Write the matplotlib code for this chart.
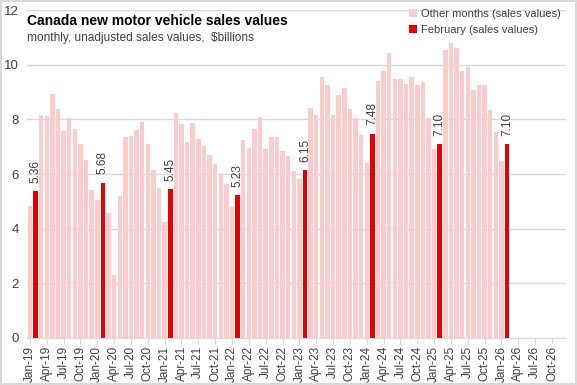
import matplotlib.pyplot as plt
import numpy as np
import pandas as pd

# --------------------------------
# Data ($billions, monthly, unadjusted)
# --------------------------------

sales_2019 = [4.84, 5.36, 8.17, 8.13, 8.95, 8.39, 7.59, 8.07, 7.65, 7.10, 6.53, 5.42]
sales_2020 = [5.05, 5.68, 4.57, 2.30, 5.21, 7.36, 7.40, 7.62, 7.91, 7.10, 6.15, 5.49]
sales_2021 = [4.24, 5.45, 8.24, 7.84, 7.18, 7.87, 7.30, 7.03, 6.70, 6.37, 5.99, 5.64]
sales_2022 = [4.80, 5.23, 7.26, 6.97, 7.65, 8.09, 6.93, 7.36, 7.36, 6.85, 6.66, 6.11]
sales_2023 = [5.82, 6.15, 8.42, 8.15, 9.56, 9.27, 8.17, 8.90, 9.16, 8.39, 8.06, 7.43]
sales_2024 = [6.41, 7.48, 9.41, 9.78, 10.43, 9.49, 9.49, 9.30, 9.56, 9.27, 9.38, 8.06]
sales_2025 = [6.92, 7.10, 10.55, 10.81, 10.62, 9.78, 9.93, 9.08, 9.27, 9.27, 8.35, 7.54]
sales_2026 = [6.48, 7.10]

sales = np.array(
    sales_2019 + sales_2020 + sales_2021 + sales_2022
    + sales_2023 + sales_2024 + sales_2025 + sales_2026
)

# axis runs Jan-19 .. Dec-26
months = pd.date_range("2019-01-01", "2026-12-01", freq="MS")
tick_labels = [m.strftime("%b-%y") for m in months]

is_feb = np.array([m.month == 2 for m in months[:len(sales)]])
x = np.arange(len(sales))

LIGHT = "#FCCCCC"
RED = "#E60000"
GRID = "#D9D9D9"
TEXT = "#404040"

# --------------------------------
# Figure
# --------------------------------

fig = plt.figure(
    figsize=(5.77, 3.85),
    dpi=100,
    edgecolor=GRID,
    linewidth=1.5
)

ax = fig.add_axes([0.047, 0.123, 0.934, 0.85])

ax.bar(
    x[~is_feb],
    sales[~is_feb],
    width=0.8,
    color=LIGHT,
    label="Other months (sales values)",
    zorder=2
)

ax.bar(
    x[is_feb],
    sales[is_feb],
    width=0.8,
    color=RED,
    label="February (sales values)",
    zorder=2
)

for xi, v in zip(x[is_feb], sales[is_feb]):
    ax.annotate(
        f"{v:.2f}",
        (xi, v),
        xytext=(0, 6),
        textcoords="offset points",
        rotation=90,
        ha="center",
        va="bottom",
        fontsize=8.5,
        color=TEXT,
        family="Liberation Sans"
    )

# --------------------------------
# Axes styling
# --------------------------------

ax.set_xlim(-0.5, len(months) - 0.5)
ax.set_ylim(0, 12)

ax.set_yticks(np.arange(0, 13, 2))
ax.yaxis.grid(True, color=GRID, linewidth=1, zorder=0)
ax.set_axisbelow(True)

x_ticks = np.arange(0, len(months), 3)
ax.set_xticks(x_ticks)
ax.set_xticklabels(
    [tick_labels[i] for i in x_ticks],
    rotation=90,
    fontsize=8.5,
    color=TEXT,
    family="Liberation Sans"
)

for lab in ax.get_yticklabels():
    lab.set_family("Liberation Sans")
    lab.set_fontsize(9.5)
    lab.set_color(TEXT)

ax.tick_params(axis="y", length=0, pad=6)
ax.tick_params(axis="x", length=4, color=GRID, pad=2)

for side in ["top", "right", "left"]:
    ax.spines[side].set_visible(False)

ax.spines["bottom"].set_color(GRID)

# --------------------------------
# Titles and legend
# --------------------------------

ax.text(
    0.0, 0.99,
    "Canada new motor vehicle sales values",
    transform=ax.transAxes,
    fontsize=10,
    fontweight="bold",
    va="top",
    ha="left",
    color="#000000",
    family="Liberation Sans"
)

ax.text(
    0.0, 0.935,
    "monthly, unadjusted sales values,  $billions",
    transform=ax.transAxes,
    fontsize=8.6,
    va="top",
    ha="left",
    color=TEXT,
    family="Liberation Sans"
)

ax.legend(
    loc="upper left",
    bbox_to_anchor=(0.69, 1.035),
    frameon=False,
    handlelength=0.7,
    handleheight=0.7,
    handletextpad=0.4,
    labelspacing=0.55,
    prop={"family": "Liberation Sans", "size": 8},
    labelcolor=TEXT
)

plt.savefig("out.png", dpi=100)
